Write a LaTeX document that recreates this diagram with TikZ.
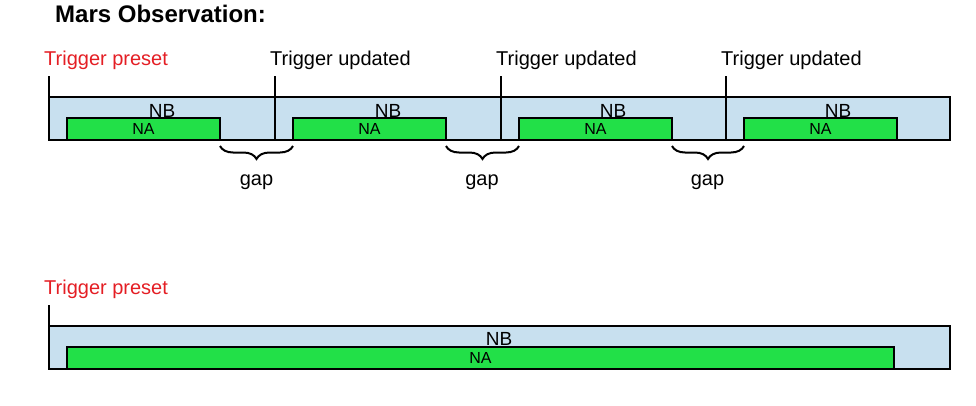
\documentclass[tikz,border=0pt]{standalone}
\usepackage{fontspec}
\setmainfont{Liberation Sans}
\usetikzlibrary{decorations.pathreplacing}
\definecolor{nbblue}{RGB}{200,224,239}
\definecolor{nagreen}{RGB}{34,224,72}
\definecolor{trigred}{RGB}{228,30,36}
\begin{document}
\begin{tikzpicture}[x=1pt,y=-1pt,
  nbbox/.style={draw=black,line width=2pt,fill=nbblue,inner sep=0,outer sep=0},
  nabox/.style={draw=black,line width=2pt,fill=nagreen,inner sep=0,outer sep=0,minimum height=22pt,font=\fontsize{16}{16}\selectfont,text height=11.5pt,text depth=0pt},
  nblabel/.style={inner sep=0,anchor=base,font=\fontsize{19}{19}\selectfont},
  triglabel/.style={inner sep=0,anchor=base west,font=\fontsize{20}{20}\selectfont},
  gaplabel/.style={inner sep=0,anchor=base,font=\fontsize{20}{20}\selectfont},
  trigline/.style={draw=black,line width=2pt},
  gapbrace/.style={draw=black,line width=2pt,decorate,decoration={brace,mirror,amplitude=13pt}}]
\useasboundingbox (0,0) rectangle (976,405);
% title
\node[inner sep=0,anchor=base west,font=\fontsize{24}{24}\selectfont\bfseries] (title) at (55,22) {Mars Observation:};
% ---------- top bar ----------
\coordinate (tbl) at (49,97);
\coordinate (tbr) at (950,140);
\node[nbbox,fit/.style={},minimum width=901pt,minimum height=43pt,anchor=north west] (nbtop) at (49,97) {};
\foreach \i/\x in {1/67,2/293,3/519,4/744}{
  \node[nabox,minimum width=153pt,anchor=south west] (na\i) at (\x,140) {NA};
}
\foreach \i/\x in {1/162,2/388,3/613,4/838}{
  \node[nblabel] (nb\i) at (\x,117) {NB};
}
% trigger lines and labels
\foreach \i/\x in {0/49,1/275,2/501,3/726}{
  \coordinate (tt\i) at (\x,76);
  \coordinate (tb\i) at (\x,140);
  \draw[trigline] (tt\i) -- (tb\i);
}
\node[triglabel,text=trigred] (tp1) at (44,65) {Trigger preset};
\node[triglabel] (tu1) at (270,65) {Trigger updated};
\node[triglabel] (tu2) at (496,65) {Trigger updated};
\node[triglabel] (tu3) at (721,65) {Trigger updated};
% gaps
\foreach \a/\b/\k in {1/2/1,2/3/2,3/4/3}{
  \coordinate (gs\k) at ([yshift=-6pt]na\a.south east);
  \coordinate (ge\k) at ([yshift=-6pt]na\b.south west);
  \draw[gapbrace] (gs\k) -- (ge\k);
}
\node[gaplabel] (gap1) at (256.5,185) {gap};
\node[gaplabel] (gap2) at (482,185) {gap};
\node[gaplabel] (gap3) at (707.5,185) {gap};
% ---------- bottom bar ----------
\node[nbbox,minimum width=901pt,minimum height=43pt,anchor=north west] (nbbot) at (49,326) {};
\node[nabox,minimum width=827pt,anchor=south west] (nab) at (67,369) {NA};
\node[nblabel] (nbb) at (499,345) {NB};
\coordinate (btt) at (49,305);
\coordinate (btb) at (49,369);
\draw[trigline] (btt) -- (btb);
\node[triglabel,text=trigred] (tp2) at (44,294) {Trigger preset};
\end{tikzpicture}
\end{document}
